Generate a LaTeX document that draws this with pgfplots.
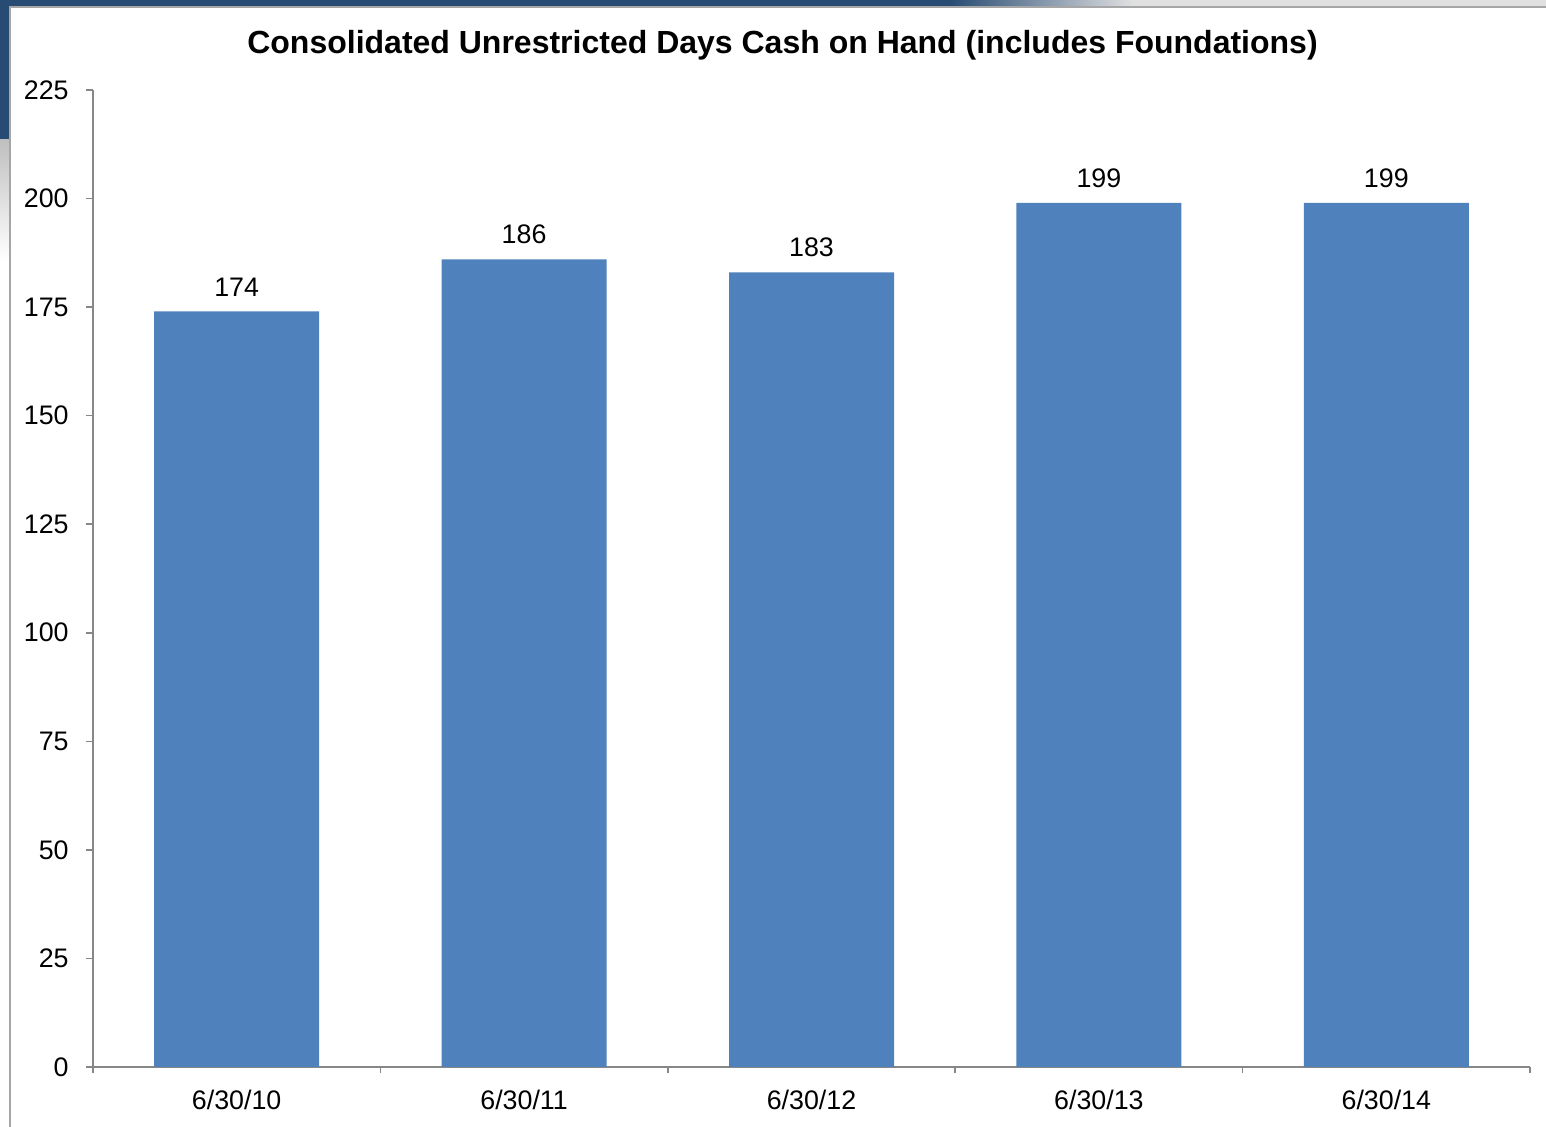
\documentclass[border=0pt]{standalone}
\usepackage{pgfplots}
\pgfplotsset{compat=1.18}
\usepackage{fontspec}
\setmainfont{Liberation Sans}
\definecolor{barblue}{HTML}{4F81BD}
\definecolor{axisgray}{HTML}{878787}
\definecolor{slideblue}{HTML}{274B73}
\definecolor{framegray}{HTML}{A6A6A6}
\begin{document}
\begin{tikzpicture}
\useasboundingbox (-46.5pt,-30pt) rectangle (726.5pt,533.5pt);
% slide background pieces outside frame
\fill[slideblue] (-46.5pt,530pt) rectangle (428.5pt,533.5pt);
\shade[left color=slideblue, right color=black!12] (428.5pt,530pt) rectangle (520pt,533.5pt);
\fill[black!12] (520pt,530pt) rectangle (726.5pt,533.5pt);
\fill[slideblue] (-46.5pt,463.5pt) rectangle (-41.5pt,533.5pt);
\shade[top color=black!25, bottom color=white] (-46.5pt,403.5pt) rectangle (-41.5pt,463.5pt);
\draw[framegray, line width=0.8pt] (-41.5pt,-30pt) -- (-41.5pt,530pt) -- (726.5pt,530pt);
\node[font=\fontsize{16}{19}\selectfont\bfseries, anchor=base] at (344.75pt,506.5pt) {Consolidated Unrestricted Days Cash on Hand (includes Foundations)};
\begin{axis}[
  scale only axis,
  width=718.5pt, height=488.5pt,
  xmin=-0.5, xmax=4.5,
  ymin=0, ymax=225,
  axis lines*=left,
  axis line style={axisgray, line width=0.8pt},
  ybar, bar width=82.5pt,
  xtick={0,1,2,3,4},
  xticklabels={6/30/10,6/30/11,6/30/12,6/30/13,6/30/14},
  minor xtick={-0.5,0.5,1.5,2.5,3.5,4.5},
  ytick={0,25,...,225},
  tick align=outside,
  tick style={axisgray, line width=0.8pt},
  major x tick style={draw=none},
  major tick length=3.5pt,
  minor tick length=3pt,
  /pgf/number format/assume math mode=true,
  tick label style={font=\fontsize{13.4}{16}\selectfont, black},
  yticklabel style={inner sep=0pt, xshift=-8.5pt},
  xticklabel style={inner sep=0pt, yshift=-8pt},
  nodes near coords,
  nodes near coords style={font=\fontsize{13.4}{16}\selectfont, black, inner sep=0pt, yshift=7.5pt, anchor=south},
  clip=false,
]
\addplot[fill=barblue, draw=none] coordinates {(0,174) (1,186) (2,183) (3,199) (4,199)};
\end{axis}
\end{tikzpicture}
\end{document}
